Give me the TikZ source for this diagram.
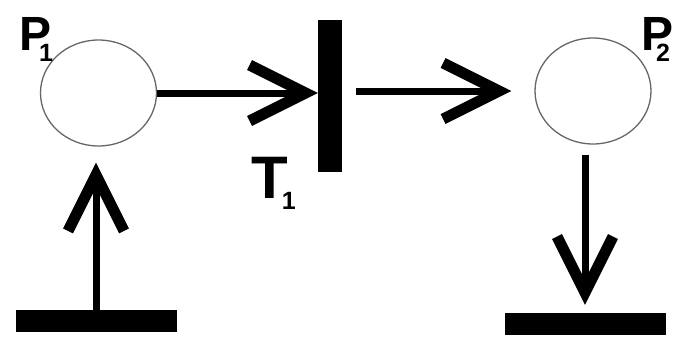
\documentclass[tikz,border=0pt]{standalone}
\usepackage{fontspec}
\setmainfont{Liberation Sans}
\usetikzlibrary{arrows.meta,positioning,shapes.geometric}

\newcommand{\sublbl}[3]{#1\kern#2\raisebox{-11pt}{\fontsize{25}{25}\selectfont #3}}

\begin{document}
\begin{tikzpicture}[x=1pt,y=-1pt,
  place/.style={ellipse,draw=black!60,line width=1.3pt,minimum width=116pt,minimum height=106pt},
  trans/.style={fill=black,inner sep=0pt},
  bar/.style={trans,minimum width=161pt,minimum height=22pt},
  a/.style={line width=7pt,-{Straight Barb[length=56pt,width=56pt,line width=11pt,sharp]}},
  lbl/.style={inner sep=0pt,font=\fontsize{48}{48}\selectfont\bfseries}]
\useasboundingbox (0,0) rectangle (694,340);
\node[place] (p1) at (98.5,93) {};
\node[place] (p2) at (593,91) {};
\node[trans,minimum width=24pt,minimum height=152pt] (t1) at (330,96) {};
\node[bar] (src) at (96,321) {};
\node[bar] (snk) at (585,324) {};
\draw[a] (p1.east) -- (p1.east -| t1.west);
\draw[a,shorten <=14pt,shorten >=23pt] (t1.east |- p2.west) -- (p2.west);
\draw[a,shorten >=16pt] (src.north) -- (src.north |- p1.south);
\draw[a,shorten <=10pt,shorten >=8pt] (snk.north |- p2.south) -- (snk.north);
\node[lbl,anchor=base west] (p1l) at (19,50) {\sublbl{P}{-12pt}{1}};
\node[lbl,anchor=base west] (p2l) at (641,50) {\sublbl{P}{-17pt}{2}};
\node[lbl,anchor=base west,font=\fontsize{60}{60}\selectfont\bfseries] (t1l) at (251,198) {\sublbl{T}{-6pt}{1}};
\end{tikzpicture}
\end{document}
